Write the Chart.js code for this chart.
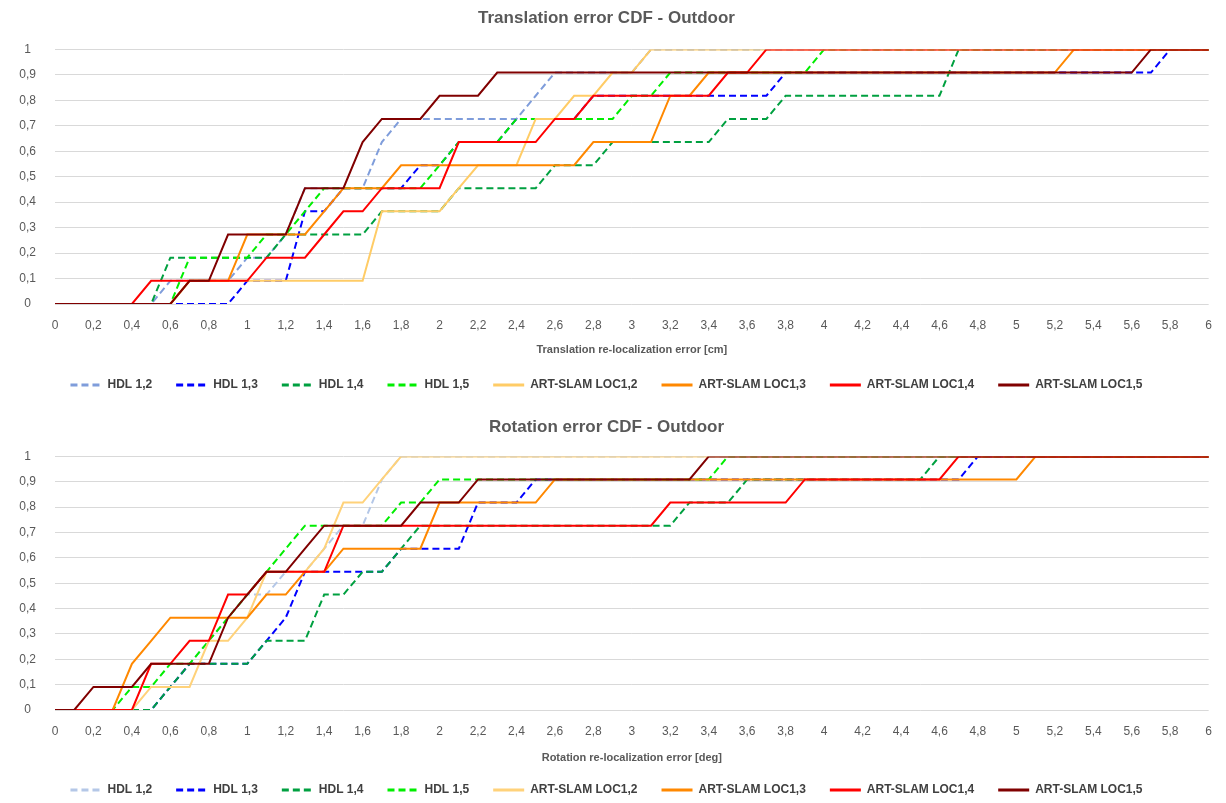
<!DOCTYPE html>
<html>
<head>
<meta charset="utf-8">
<script src="https://cdn.jsdelivr.net/npm/chart.js@4.4.0/dist/chart.umd.min.js"></script>
<style>
    body { margin: 0; background: #fff; overflow: hidden; }
    canvas { display: block; }
</style>
</head>
<body>
<canvas id="translationChart" width="1226" height="401"></canvas>
<canvas id="rotationChart" width="1226" height="405"></canvas>
<script>
const xLabels = [
    '0', '0,1', '0,2', '0,3', '0,4', '0,5', '0,6', '0,7', '0,8', '0,9',
    '1', '1,1', '1,2', '1,3', '1,4', '1,5', '1,6', '1,7', '1,8', '1,9',
    '2', '2,1', '2,2', '2,3', '2,4', '2,5', '2,6', '2,7', '2,8', '2,9',
    '3', '3,1', '3,2', '3,3', '3,4', '3,5', '3,6', '3,7', '3,8', '3,9',
    '4', '4,1', '4,2', '4,3', '4,4', '4,5', '4,6', '4,7', '4,8', '4,9',
    '5', '5,1', '5,2', '5,3', '5,4', '5,5', '5,6', '5,7', '5,8', '5,9',
    '6'
];

const seriesNames = ['HDL 1,2', 'HDL 1,3', 'HDL 1,4', 'HDL 1,5',
    'ART-SLAM LOC1,2', 'ART-SLAM LOC1,3', 'ART-SLAM LOC1,4', 'ART-SLAM LOC1,5'];

// Translation CDF (x = 0 .. 6 cm, step 0.1)
const transHdl12 = [
    0, 0, 0, 0, 0, 0, 0.091, 0.091, 0.091, 0.091,
    0.182, 0.182, 0.273, 0.455, 0.455, 0.455, 0.455, 0.636, 0.727, 0.727,
    0.727, 0.727, 0.727, 0.727, 0.727, 0.818, 0.909, 0.909, 0.909, 0.909,
    0.909, 1, 1, 1, 1, 1, 1, 1, 1, 1,
    1, 1, 1, 1, 1, 1, 1, 1, 1, 1,
    1, 1, 1, 1, 1, 1, 1, 1, 1, 1,
    1];
const transHdl13 = [
    0, 0, 0, 0, 0, 0, 0, 0, 0, 0,
    0.091, 0.091, 0.091, 0.364, 0.364, 0.455, 0.455, 0.455, 0.455, 0.545,
    0.545, 0.636, 0.636, 0.636, 0.727, 0.727, 0.727, 0.727, 0.818, 0.818,
    0.818, 0.818, 0.818, 0.818, 0.818, 0.818, 0.818, 0.818, 0.909, 0.909,
    0.909, 0.909, 0.909, 0.909, 0.909, 0.909, 0.909, 0.909, 0.909, 0.909,
    0.909, 0.909, 0.909, 0.909, 0.909, 0.909, 0.909, 0.909, 1, 1,
    1];
const transHdl14 = [
    0, 0, 0, 0, 0, 0, 0.182, 0.182, 0.182, 0.182,
    0.182, 0.182, 0.273, 0.273, 0.273, 0.273, 0.273, 0.364, 0.364, 0.364,
    0.364, 0.455, 0.455, 0.455, 0.455, 0.455, 0.545, 0.545, 0.545, 0.636,
    0.636, 0.636, 0.636, 0.636, 0.636, 0.727, 0.727, 0.727, 0.818, 0.818,
    0.818, 0.818, 0.818, 0.818, 0.818, 0.818, 0.818, 1, 1, 1,
    1, 1, 1, 1, 1, 1, 1, 1, 1, 1,
    1];
const transHdl15 = [
    0, 0, 0, 0, 0, 0, 0, 0.182, 0.182, 0.182,
    0.182, 0.273, 0.273, 0.364, 0.455, 0.455, 0.455, 0.455, 0.455, 0.455,
    0.545, 0.636, 0.636, 0.636, 0.727, 0.727, 0.727, 0.727, 0.727, 0.727,
    0.818, 0.818, 0.909, 0.909, 0.909, 0.909, 0.909, 0.909, 0.909, 0.909,
    1, 1, 1, 1, 1, 1, 1, 1, 1, 1,
    1, 1, 1, 1, 1, 1, 1, 1, 1, 1,
    1];
const transLoc12 = [
    0, 0, 0, 0, 0, 0, 0, 0.091, 0.091, 0.091,
    0.091, 0.091, 0.091, 0.091, 0.091, 0.091, 0.091, 0.364, 0.364, 0.364,
    0.364, 0.455, 0.545, 0.545, 0.545, 0.727, 0.727, 0.818, 0.818, 0.909,
    0.909, 1, 1, 1, 1, 1, 1, 1, 1, 1,
    1, 1, 1, 1, 1, 1, 1, 1, 1, 1,
    1, 1, 1, 1, 1, 1, 1, 1, 1, 1,
    1];
const transLoc13 = [
    0, 0, 0, 0, 0, 0, 0, 0.091, 0.091, 0.091,
    0.273, 0.273, 0.273, 0.273, 0.364, 0.455, 0.455, 0.455, 0.545, 0.545,
    0.545, 0.545, 0.545, 0.545, 0.545, 0.545, 0.545, 0.545, 0.636, 0.636,
    0.636, 0.636, 0.818, 0.818, 0.909, 0.909, 0.909, 0.909, 0.909, 0.909,
    0.909, 0.909, 0.909, 0.909, 0.909, 0.909, 0.909, 0.909, 0.909, 0.909,
    0.909, 0.909, 0.909, 1, 1, 1, 1, 1, 1, 1,
    1];
const transLoc14 = [
    0, 0, 0, 0, 0, 0.091, 0.091, 0.091, 0.091, 0.091,
    0.091, 0.182, 0.182, 0.182, 0.273, 0.364, 0.364, 0.455, 0.455, 0.455,
    0.455, 0.636, 0.636, 0.636, 0.636, 0.636, 0.727, 0.727, 0.818, 0.818,
    0.818, 0.818, 0.818, 0.818, 0.818, 0.909, 0.909, 1, 1, 1,
    1, 1, 1, 1, 1, 1, 1, 1, 1, 1,
    1, 1, 1, 1, 1, 1, 1, 1, 1, 1,
    1];
const transLoc15 = [
    0, 0, 0, 0, 0, 0, 0, 0.091, 0.091, 0.273,
    0.273, 0.273, 0.273, 0.455, 0.455, 0.455, 0.636, 0.727, 0.727, 0.727,
    0.818, 0.818, 0.818, 0.909, 0.909, 0.909, 0.909, 0.909, 0.909, 0.909,
    0.909, 0.909, 0.909, 0.909, 0.909, 0.909, 0.909, 0.909, 0.909, 0.909,
    0.909, 0.909, 0.909, 0.909, 0.909, 0.909, 0.909, 0.909, 0.909, 0.909,
    0.909, 0.909, 0.909, 0.909, 0.909, 0.909, 0.909, 1, 1, 1,
    1];

// Rotation CDF (x = 0 .. 6 deg, step 0.1)
const rotHdl12 = [
    0, 0, 0, 0, 0, 0, 0.091, 0.182, 0.273, 0.364,
    0.455, 0.455, 0.545, 0.545, 0.636, 0.727, 0.727, 0.909, 1, 1,
    1, 1, 1, 1, 1, 1, 1, 1, 1, 1,
    1, 1, 1, 1, 1, 1, 1, 1, 1, 1,
    1, 1, 1, 1, 1, 1, 1, 1, 1, 1,
    1, 1, 1, 1, 1, 1, 1, 1, 1, 1,
    1];
const rotHdl13 = [
    0, 0, 0, 0, 0, 0, 0.091, 0.182, 0.182, 0.182,
    0.182, 0.273, 0.364, 0.545, 0.545, 0.545, 0.545, 0.545, 0.636, 0.636,
    0.636, 0.636, 0.818, 0.818, 0.818, 0.909, 0.909, 0.909, 0.909, 0.909,
    0.909, 0.909, 0.909, 0.909, 0.909, 0.909, 0.909, 0.909, 0.909, 0.909,
    0.909, 0.909, 0.909, 0.909, 0.909, 0.909, 0.909, 0.909, 1, 1,
    1, 1, 1, 1, 1, 1, 1, 1, 1, 1,
    1];
const rotHdl14 = [
    0, 0, 0, 0, 0, 0, 0.091, 0.182, 0.182, 0.182,
    0.182, 0.273, 0.273, 0.273, 0.455, 0.455, 0.545, 0.545, 0.636, 0.727,
    0.727, 0.727, 0.727, 0.727, 0.727, 0.727, 0.727, 0.727, 0.727, 0.727,
    0.727, 0.727, 0.727, 0.818, 0.818, 0.818, 0.909, 0.909, 0.909, 0.909,
    0.909, 0.909, 0.909, 0.909, 0.909, 0.909, 1, 1, 1, 1,
    1, 1, 1, 1, 1, 1, 1, 1, 1, 1,
    1];
const rotHdl15 = [
    0, 0, 0, 0, 0.091, 0.091, 0.182, 0.182, 0.273, 0.364,
    0.455, 0.545, 0.636, 0.727, 0.727, 0.727, 0.727, 0.727, 0.818, 0.818,
    0.909, 0.909, 0.909, 0.909, 0.909, 0.909, 0.909, 0.909, 0.909, 0.909,
    0.909, 0.909, 0.909, 0.909, 0.909, 1, 1, 1, 1, 1,
    1, 1, 1, 1, 1, 1, 1, 1, 1, 1,
    1, 1, 1, 1, 1, 1, 1, 1, 1, 1,
    1];
const rotLoc12 = [
    0, 0, 0, 0, 0, 0.091, 0.091, 0.091, 0.273, 0.273,
    0.364, 0.545, 0.545, 0.545, 0.636, 0.818, 0.818, 0.909, 1, 1,
    1, 1, 1, 1, 1, 1, 1, 1, 1, 1,
    1, 1, 1, 1, 1, 1, 1, 1, 1, 1,
    1, 1, 1, 1, 1, 1, 1, 1, 1, 1,
    1, 1, 1, 1, 1, 1, 1, 1, 1, 1,
    1];
const rotLoc13 = [
    0, 0, 0, 0, 0.182, 0.273, 0.364, 0.364, 0.364, 0.364,
    0.364, 0.455, 0.455, 0.545, 0.545, 0.636, 0.636, 0.636, 0.636, 0.636,
    0.818, 0.818, 0.818, 0.818, 0.818, 0.818, 0.909, 0.909, 0.909, 0.909,
    0.909, 0.909, 0.909, 0.909, 0.909, 0.909, 0.909, 0.909, 0.909, 0.909,
    0.909, 0.909, 0.909, 0.909, 0.909, 0.909, 0.909, 0.909, 0.909, 0.909,
    0.909, 1, 1, 1, 1, 1, 1, 1, 1, 1,
    1];
const rotLoc14 = [
    0, 0, 0, 0, 0, 0.182, 0.182, 0.273, 0.273, 0.455,
    0.455, 0.545, 0.545, 0.545, 0.545, 0.727, 0.727, 0.727, 0.727, 0.727,
    0.727, 0.727, 0.727, 0.727, 0.727, 0.727, 0.727, 0.727, 0.727, 0.727,
    0.727, 0.727, 0.818, 0.818, 0.818, 0.818, 0.818, 0.818, 0.818, 0.909,
    0.909, 0.909, 0.909, 0.909, 0.909, 0.909, 0.909, 1, 1, 1,
    1, 1, 1, 1, 1, 1, 1, 1, 1, 1,
    1];
const rotLoc15 = [
    0, 0, 0.091, 0.091, 0.091, 0.182, 0.182, 0.182, 0.182, 0.364,
    0.455, 0.545, 0.545, 0.636, 0.727, 0.727, 0.727, 0.727, 0.727, 0.818,
    0.818, 0.818, 0.909, 0.909, 0.909, 0.909, 0.909, 0.909, 0.909, 0.909,
    0.909, 0.909, 0.909, 0.909, 1, 1, 1, 1, 1, 1,
    1, 1, 1, 1, 1, 1, 1, 1, 1, 1,
    1, 1, 1, 1, 1, 1, 1, 1, 1, 1,
    1];

const topColors = ['#7f9ddb', '#0000ff', '#00a040', '#00ee00', '#ffcc66', '#ff8800', '#ff0000', '#800000'];
const bottomColors = ['#b4c7e7', '#0000ff', '#00a040', '#00ee00', '#ffd27a', '#ff8800', '#ff0000', '#800000'];
const dashed = [true, true, true, true, false, false, false, false];

const fontFamily = "'Liberation Sans', Arial, sans-serif";
const textColor = '#595959';

function createCdfChart(canvas, title, xTitle, seriesList, colors, pad) {
    const datasets = seriesList.map((values, i) => ({
        label: seriesNames[i],
        data: values,
        borderColor: colors[i],
        backgroundColor: colors[i],
        borderWidth: 2,
        borderDash: dashed[i] ? [7, 4] : [],
        pointRadius: 0,
        tension: 0,
        order: seriesList.length - i // last series drawn on top, like Excel
    }));

    new Chart(canvas, {
        type: 'line',
        data: { labels: xLabels, datasets: datasets },
        options: {
            responsive: false,
            animation: false,
            layout: { padding: { left: 0, right: 13, top: 0, bottom: 0 } },
            plugins: {
                title: {
                    display: true,
                    text: title,
                    color: textColor,
                    font: { family: fontFamily, size: 17, weight: 'bold' },
                    padding: { top: pad.titleTop, bottom: pad.titleBottom }
                },
                legend: {
                    position: 'bottom',
                    labels: {
                        color: '#404040',
                        font: { family: fontFamily, size: 12, weight: 'bold' },
                        boxWidth: 31,
                        boxHeight: 0,
                        padding: 24,
                        sort: (a, b) => a.datasetIndex - b.datasetIndex,
                        generateLabels: (chart) => chart.data.datasets.map((ds, i) => ({
                            text: ds.label,
                            datasetIndex: i,
                            fillStyle: ds.borderColor,
                            strokeStyle: ds.borderColor,
                            lineWidth: 3,
                            lineDash: ds.borderDash,
                            fontColor: '#404040'
                        }))
                    }
                },
                tooltip: { enabled: false }
            },
            scales: {
                x: {
                    grid: { display: false, drawTicks: false },
                    border: { display: false },
                    ticks: {
                        color: textColor,
                        font: { family: fontFamily, size: 12 },
                        autoSkip: false,
                        maxRotation: 0,
                        padding: pad.tickPad,
                        callback: function (value, index) {
                            return index % 2 === 0 ? this.getLabelForValue(value) : '';
                        }
                    },
                    title: {
                        display: true,
                        text: xTitle,
                        color: textColor,
                        font: { family: fontFamily, size: 11, weight: 'bold' },
                        padding: { top: 0, bottom: pad.axisTitleBottom }
                    },
                    afterFit: (scale) => { scale.height = pad.xHeight; }
                },
                y: {
                    min: 0,
                    max: 1,
                    grid: { color: '#d9d9d9', drawTicks: false },
                    border: { display: false },
                    ticks: {
                        stepSize: 0.1,
                        color: textColor,
                        font: { family: fontFamily, size: 12 },
                        crossAlign: 'center',
                        padding: 19,
                        callback: (value) => value === 0 ? '0' : (value === 1 ? '1' : value.toFixed(1).replace('.', ','))
                    },
                    afterFit: (scale) => { scale.width = 55; }
                }
            }
        }
    });
}

createCdfChart(document.querySelector('#translationChart'),
    'Translation error CDF - Outdoor', 'Translation re-localization error [cm]',
    [transHdl12, transHdl13, transHdl14, transHdl15, transLoc12, transLoc13, transLoc14, transLoc15],
    topColors,
    { titleTop: 8, titleBottom: 21, tickPad: 14, axisTitleBottom: -2, xHeight: 51 });

createCdfChart(document.querySelector('#rotationChart'),
    'Rotation error CDF - Outdoor', 'Rotation re-localization error [deg]',
    [rotHdl12, rotHdl13, rotHdl14, rotHdl15, rotLoc12, rotLoc13, rotLoc14, rotLoc15],
    bottomColors,
    { titleTop: 16, titleBottom: 19, tickPad: 14, axisTitleBottom: -5, xHeight: 50 });
</script>
</body>
</html>
